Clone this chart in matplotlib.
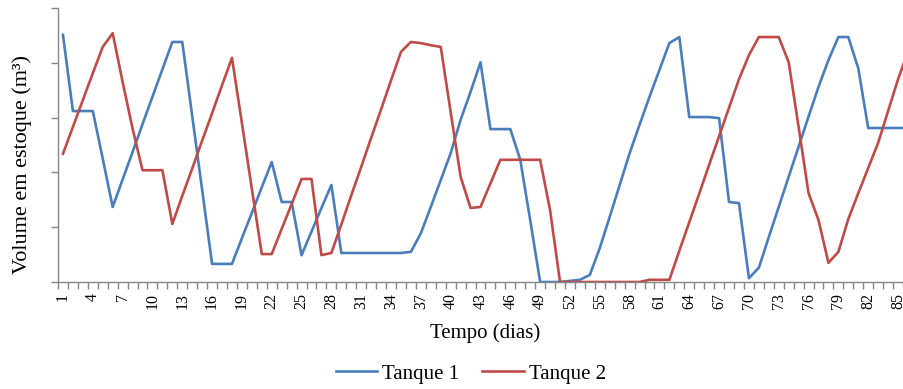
import numpy as np
import matplotlib.pyplot as plt

plt.rcParams['font.family'] = ['Liberation Serif', 'DejaVu Serif']

# dias 1..86
dias = np.arange(1, 87)
tanque1 = [451, 312, 312, 312, 225, 137, 187, 237, 288, 338,
           388, 438, 438, 303, 168, 33, 33, 33, 80, 126,
           173, 219, 146, 146, 49, 92, 135, 177, 53, 53,
           53, 53, 53, 53, 53, 55, 89, 137, 186, 235,
           296, 347, 401, 279, 279, 279, 223, 113, 0, 0,
           0, 2, 4, 13, 62, 119, 177, 235, 287, 338,
           387, 436, 447, 301, 301, 301, 299, 146, 144, 7,
           26, 82, 137, 192, 247, 302, 356, 405, 447, 447,
           390, 281, 281, 281, 281, 281]
tanque2 = [234, 283, 332, 381, 429, 454, 365, 280, 204, 204,
           204, 106, 157, 207, 258, 308, 359, 409, 290, 170,
           51, 51, 97, 142, 188, 188, 49, 53, 105, 158,
           210, 263, 315, 368, 420, 438, 436, 432, 429, 310,
           192, 135, 137, 180, 223, 223, 223, 223, 223, 131,
           0, 0, 0, 0, 0, 0, 0, 0, 0, 4,
           4, 4, 57, 109, 161, 214, 266, 318, 370, 414,
           447, 447, 447, 401, 283, 162, 113, 35, 55, 115,
           162, 208, 254, 312, 370, 420]
rotulos_x = list(range(1, 86, 3))

azul = '#4A7EBB'
vermelho = '#BE4B48'
cinza = '#868686'

fig = plt.figure(figsize=(9.04, 3.89), dpi=100)
ax = fig.add_axes([58/904, 1 - 282/389, 846/904, 274/389])

ax.plot(dias, tanque1, color=azul, lw=1.9, label='Tanque 1')
ax.plot(dias, tanque2, color=vermelho, lw=1.9, label='Tanque 2')

ax.set_xlim(0.5, 85.6)
ax.set_ylim(0, 500)
ax.set_yticks(np.arange(0, 501, 100))
ax.set_yticklabels([])
ax.set_xticks(rotulos_x)
ax.set_xticklabels([str(v) for v in rotulos_x], rotation=90, fontsize=11.5)
ax.set_xticks(np.arange(0.5, 86.5, 1), minor=True)
ax.tick_params(axis='x', which='major', length=0, pad=8)
ax.tick_params(axis='x', which='minor', length=5, color=cinza, width=1)
ax.tick_params(axis='y', length=5, color=cinza, width=1)

for s in ['top', 'right']:
    ax.spines[s].set_visible(False)
for s in ['left', 'bottom']:
    ax.spines[s].set_color(cinza)
    ax.spines[s].set_linewidth(1)

fig.text(485/904, 1 - 333/389, 'Tempo (dias)', ha='center', va='center', fontsize=15)
fig.text(22/904, 1 - 164/389, 'Volume em estoque (m³)', ha='center', va='center',
         rotation=90, fontsize=16)

fig.legend(loc='center', bbox_to_anchor=(471/904, 1 - 374/389), ncol=2, frameon=False,
           fontsize=15, handlelength=2.0, handletextpad=0.25, columnspacing=1.1,
           borderpad=0)

fig.savefig('out.png', dpi=100)
